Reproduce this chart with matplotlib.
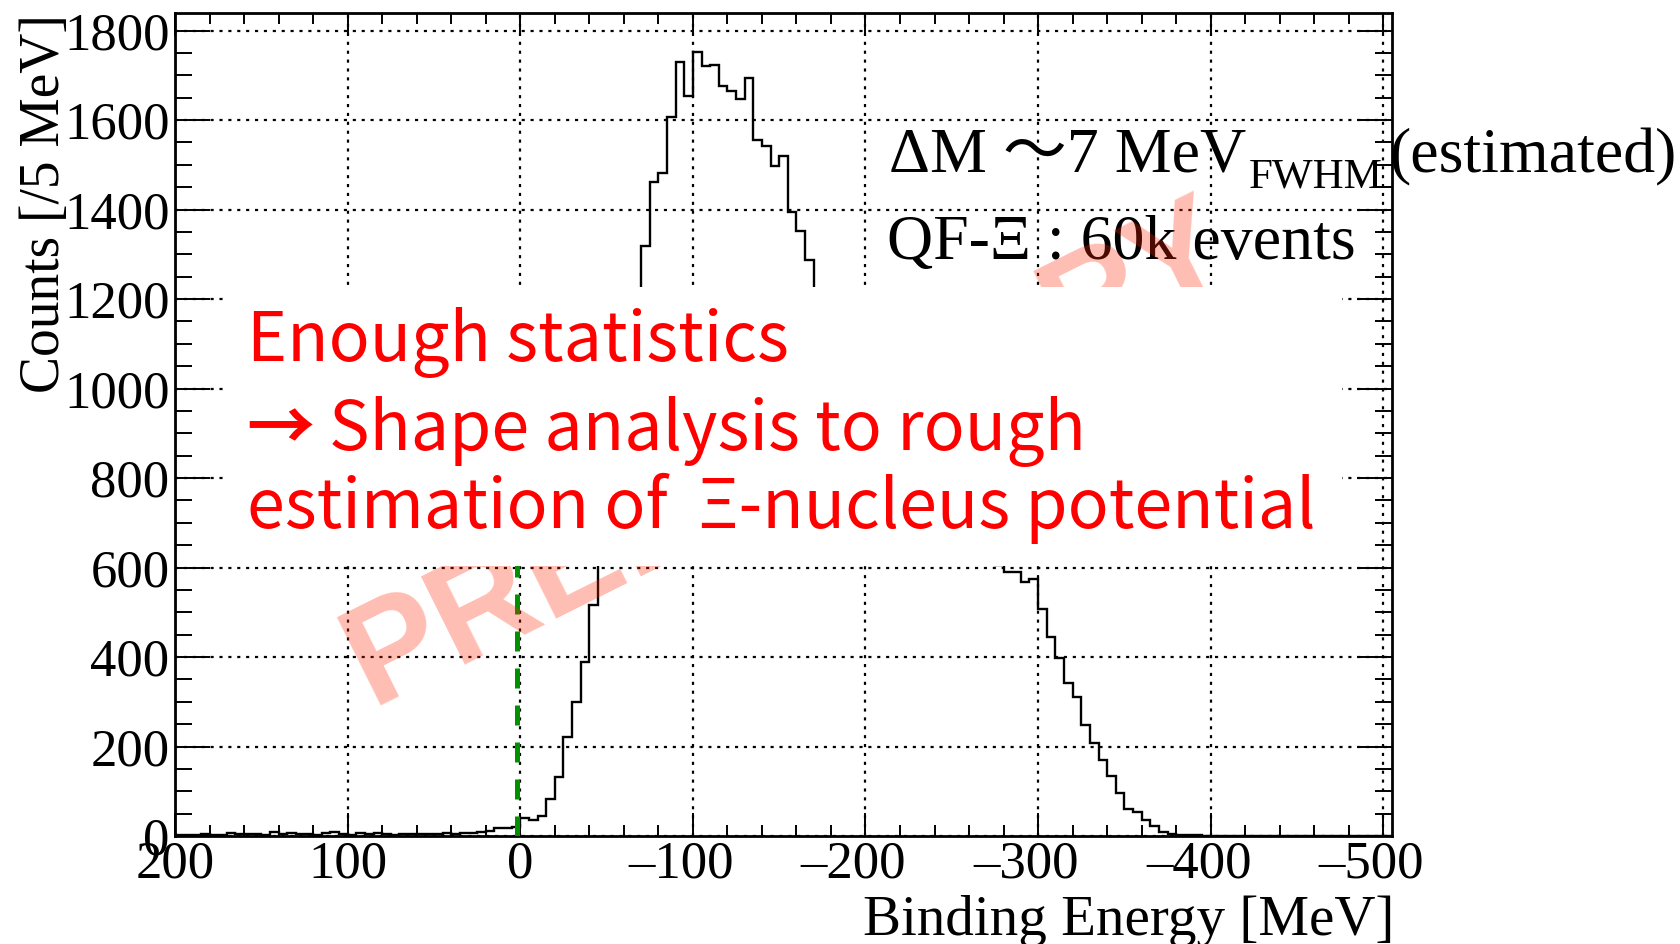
import numpy as np
import matplotlib
matplotlib.use("Agg")
import matplotlib.pyplot as plt
import matplotlib.transforms as mtransforms
from matplotlib.patches import Rectangle
from matplotlib.ticker import MultipleLocator

# ---------------- data ----------------
bin_width = 5          # MeV per bin
x_first_edge = 200     # histogram starts at +200 MeV
x_last_edge = -505     # and ends at -505 MeV

# counts per 5 MeV bin, ordered from +200 MeV downwards
counts_pos = [2, 2, 2, 4, 2, 2, 6, 4, 4, 4,
              2, 8, 4, 6, 4, 4, 2, 6, 8, 4,
              2, 6, 4, 6, 4, 2, 4, 4, 4, 4,
              4, 6, 4, 6, 7, 8, 12, 17, 17, 21]          # +200 .. 0
counts_neg = [40, 36, 45, 83, 131, 222, 299, 389, 516,
              650, 790, 930, 1060, 1180,
              1319, 1461, 1482, 1606, 1730, 1654, 1753, 1720, 1724, 1675,
              1665, 1646, 1694, 1556, 1542, 1498, 1520, 1394, 1353, 1287,
              1215, 1185, 1150, 1120, 1090, 1055, 1020, 990, 960, 930,
              900, 870, 840, 810, 780, 750, 720, 695, 670, 645, 625, 605,
              591, 591, 568, 574, 507, 445, 398, 341, 311, 248,
              208, 170, 133, 95, 61, 53, 36, 22, 10, 5,
              3, 2, 2, 1]                                   # 0 .. -400
counts_tail = [0, 0, 0, 0, 0, 0, 0, 0, 0, 0,
               0, 0, 0, 0, 0, 0, 0, 0, 0, 0, 0]             # -400 .. -505
counts = np.array(counts_pos + counts_neg + counts_tail)

threshold_x = 2        # green dashed line (Xi- threshold)
threshold_top = 1000

x_ticks = [200, 100, 0, -100, -200, -300, -400, -500]
x_ticklabels = ["200", "100", "0", "\u2013100", "\u2013200", "\u2013300", "\u2013400", "\u2013500"]
y_ticks = [0, 200, 400, 600, 800, 1000, 1200, 1400, 1600, 1800]
y_ticklabels = [str(v) for v in y_ticks]

xlabel = "Binding Energy [MeV]"
ylabel = "Counts [/5 MeV]"
note_res = "\u0394M \u301c7 MeV"
note_res_sub = "FWHM"
note_res_tail = "(estimated)"
note_stat = "QF-\u039e : 60k events"
red_line1 = "Enough statistics"
red_arrow = "\u2192"
red_line2 = "Shape analysis to rough"
red_line3 = "estimation of  \u039e-nucleus potential"
watermark = "PRELIMINARY"

# ---------------- figure ----------------
plt.rcParams['font.family'] = ['Liberation Serif', 'DejaVu Serif']
W, H = 1681, 944
fig = plt.figure(figsize=(W / 100, H / 100), dpi=100)


def fx(px):
    return px / W


def fy(py):
    return 1 - py / H


ax = fig.add_axes([fx(175), fy(836), (1392 - 175) / W, (836 - 13.5) / H])

edges = np.arange(x_first_edge, x_last_edge - bin_width / 2, -bin_width)
ax.stairs(counts[::-1], edges[::-1], color='black', lw=1.7, baseline=None, zorder=3)

ax.plot([threshold_x, threshold_x], [0, threshold_top], color='#009000', lw=3.6,
        linestyle=(0, (4.0, 3.4)), zorder=4)

ax.set_xlim(x_first_edge, x_last_edge)
ax.set_ylim(0, 1838)
ax.set_xticks(x_ticks)
ax.set_xticklabels(x_ticklabels)
ax.set_yticks(y_ticks)
ax.set_yticklabels(y_ticklabels)
ax.xaxis.set_minor_locator(MultipleLocator(20))
ax.yaxis.set_minor_locator(MultipleLocator(50))
ax.tick_params(axis='both', which='both', direction='in', top=True, right=True,
               width=1.4, labelsize=38, colors='black')
ax.tick_params(axis='x', which='major', length=16.5, pad=3)
ax.tick_params(axis='x', which='minor', length=8)
ax.tick_params(axis='y', which='major', length=25, pad=4)
ax.tick_params(axis='y', which='minor', length=12.5)
for s in ax.spines.values():
    s.set_linewidth(2.0)
ax.grid(True, which='major', color='black', lw=1.6, linestyle=(0, (1.4, 2.6)))
ax.set_axisbelow(False)

# ROOT-style: digits centred on the tick, minus sign hanging to the left
shift_left = mtransforms.ScaledTranslation(-0.12, 0, fig.dpi_scale_trans)
for lab, val in zip(ax.get_xticklabels(), x_ticks):
    if val < 0:
        lab.set_transform(lab.get_transform() + shift_left)

# axis titles
fig.text(fx(1394), fy(935), xlabel, ha='right', va='baseline', fontsize=41)
fig.text(fx(59), fy(14), ylabel, rotation=90, rotation_mode='anchor',
         ha='right', va='baseline', fontsize=40)

# black notes
fam_note = ['Liberation Serif', 'Noto Sans CJK JP']
t1 = fig.text(fx(889), fy(172), note_res, ha='left', va='baseline', fontsize=46,
              family=fam_note, zorder=3)
fig.canvas.draw()
renderer = fig.canvas.get_renderer()
bb1 = t1.get_window_extent(renderer)
t2 = fig.text((bb1.x1 + 3) / W, fy(188), note_res_sub, ha='left', va='baseline',
              fontsize=31, family=fam_note, zorder=3)
bb2 = t2.get_window_extent(renderer)
fig.text((bb2.x1 + 6) / W, fy(172), note_res_tail, ha='left', va='baseline',
         fontsize=46, family=fam_note, zorder=3)
fig.text(fx(887), fy(259), note_stat, ha='left', va='baseline', fontsize=46,
         family=fam_note, zorder=3)

# watermark (above the histogram, below the white box)
fig.text(fx(805), fy(489), watermark, ha='center', va='baseline', rotation=26.5,
         rotation_mode='anchor', fontsize=102, fontweight='bold',
         family=['Liberation Sans', 'DejaVu Sans'], color='#ff2605', alpha=0.3, zorder=5)

# white box with red comment
fig.add_artist(Rectangle((fx(226), fy(566)), (1342 - 226) / W, (566 - 287) / H,
                         transform=fig.transFigure, facecolor='white', edgecolor='none',
                         zorder=10))
fam_red = ['Noto Sans CJK JP', 'DejaVu Sans']
fig.text(fx(247), fy(361), red_line1, ha='left', va='baseline', fontsize=49,
         family=fam_red, color='#ff0000', zorder=11)
fig.text(fx(246), fy(450), red_arrow, ha='left', va='baseline', fontsize=49,
         fontweight='bold', family=fam_red, color='#ff0000', zorder=11)
fig.text(fx(329), fy(450), red_line2, ha='left', va='baseline', fontsize=49,
         family=fam_red, color='#ff0000', zorder=11)
fig.text(fx(247), fy(528), red_line3, ha='left', va='baseline', fontsize=49,
         family=fam_red, color='#ff0000', zorder=11)

fig.savefig("out.png", dpi=100)
